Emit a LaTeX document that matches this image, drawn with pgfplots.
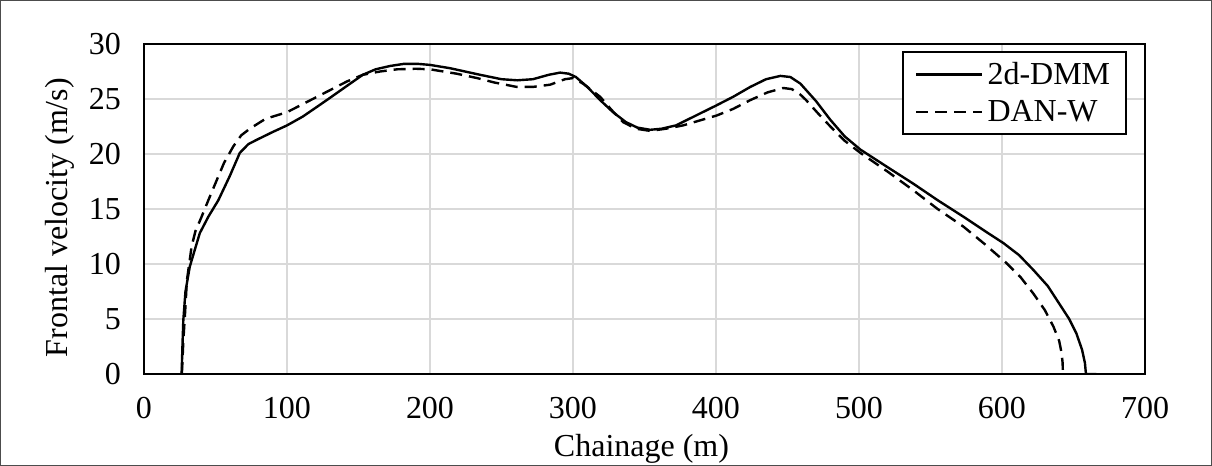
\documentclass[border=0pt]{standalone}
\usepackage{fontspec}
\setmainfont{Liberation Serif}
\usepackage{pgfplots}
\pgfplotsset{compat=1.18}
\begin{document}
\begin{tikzpicture}
\useasboundingbox (0,0) rectangle (606pt,233pt);
\draw[black!70, line width=0.6pt] (0.4pt,0.4pt) rectangle (605.6pt,232.6pt);
\begin{axis}[
  at={(72pt,46pt)}, anchor=south west,
  scale only axis, width=500.5pt, height=165pt,
  xmin=0, xmax=700, ymin=0, ymax=30,
  xtick={0,100,...,700}, ytick={0,5,...,30},
  grid=major, major grid style={draw=black!15, line width=0.8pt},
  axis line style={black, line width=1.3pt},
  tick style={draw=none},
  font=\fontsize{16pt}{19.2pt}\selectfont,
  tick label style={font=\fontsize{16pt}{19.2pt}\selectfont},
  /pgf/number format/assume math mode=true,
  /pgf/number format/1000 sep={},
  yticklabel style={xshift=-8pt},
  xticklabel style={yshift=-8pt},
  xlabel={Chainage (m)}, ylabel={Frontal velocity (m/s)},
  xlabel style={at={(axis description cs:0.497,0)}, anchor=base, yshift=-41.5pt},
  ylabel style={at={(axis description cs:-0.084,0.474)}, anchor=center},
  legend style={at={(1,1)}, anchor=north east, xshift=-9pt, yshift=-3.5pt,
    draw=black, line width=0.8pt, font=\fontsize{16pt}{19.2pt}\selectfont,
    row sep=2.5pt, inner xsep=6pt, inner ysep=3pt},
  legend cell align=left,
  legend image code/.code={\draw[#1, line width=1.2pt] (0pt,0pt) -- (33pt,0pt);},
]
\addplot[black, line width=1.2pt] coordinates {
(26.3,0) (27,3) (27.5,4.9) (29,7.5) (32,9.75) (36,11.5) (39,12.8) (45,14.3) (52,15.8) (60,18.0) (67,20.1) (73,20.9) (79,21.3) (90,22.0) (100,22.6) (111,23.4) (120,24.2) (130,25.1) (142,26.2) (153,27.2) (162,27.7) (172,28.0) (182,28.2) (191,28.2) (200,28.1) (214,27.8) (235,27.2) (250,26.8) (261,26.7) (272,26.8) (283,27.2) (291,27.4) (297,27.3) (302,27.0) (310,26.1) (319,24.9) (328,23.8) (337,22.9) (345,22.4) (354,22.2) (362,22.3) (372,22.6) (386,23.5) (400,24.4) (412,25.2) (424,26.1) (435,26.8) (445,27.1) (452,27.0) (459,26.4) (470,24.8) (480,23.1) (490,21.6) (501,20.4) (520,18.8) (538,17.3) (555,15.8) (573,14.3) (588,13.0) (601,11.9) (612,10.8) (622,9.45) (632,8.0) (640,6.4) (647,5.0) (652,3.7) (656,2.2) (658,1.0) (658.7,0) (666,0)
};
\addlegendentry{2d-DMM}
\addplot[black, line width=1.2pt, dash pattern=on 6pt off 3.5pt] coordinates {
(26.5,0) (27.5,3) (28.7,5.5) (30,8.5) (33.3,11.6) (36,13) (40.3,14.3) (45,15.8) (50.8,17.6) (56,19.2) (62.5,20.7) (68,21.7) (74,22.3) (85,23.2) (100,23.8) (115,24.8) (130,25.8) (142,26.6) (153,27.2) (165,27.5) (177,27.7) (190,27.75) (200,27.7) (218.7,27.3) (233,26.9) (245,26.5) (260.6,26.1) (272,26.1) (284,26.3) (294.4,26.8) (300,26.9) (307,26.4) (319,25.2) (327,24.0) (335,22.9) (344,22.3) (354,22.1) (365,22.3) (377,22.6) (390,23.1) (400.5,23.5) (412,24.1) (424,24.9) (436,25.6) (447,26.0) (453,25.9) (459,25.4) (463,24.9) (472,23.6) (480,22.5) (490,21.2) (501,20.1) (520,18.4) (538,16.7) (555,15.0) (573,13.4) (588,11.8) (603,10.1) (613,8.8) (622,7.3) (630,5.8) (636,4.3) (640,3.0) (641.7,1.9) (642.4,1) (642.6,0)
};
\addlegendentry{DAN-W}
\end{axis}
\end{tikzpicture}
\end{document}
